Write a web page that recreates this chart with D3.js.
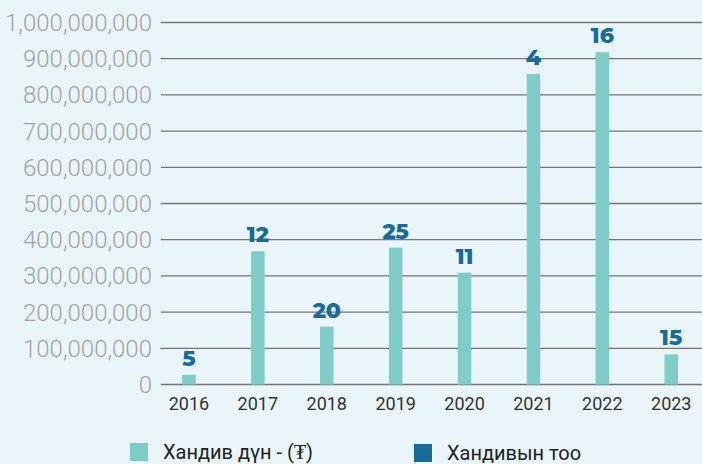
<!DOCTYPE html>
<html><head><meta charset="utf-8">
<script src="https://cdn.jsdelivr.net/npm/d3@7"></script>
<style>
html,body{margin:0;padding:0;background:#eaf5f9;}
svg{display:block;}
</style></head>
<body>
<svg id="chart" width="702" height="464"></svg>
<script>
const years = ["2016","2017","2018","2019","2020","2021","2022","2023"];
const amounts = [27000000, 368000000, 160000000, 378000000, 309000000, 858000000, 918000000, 83000000];
const counts = [5, 12, 20, 25, 11, 4, 16, 15];
const yTicks = [0,100000000,200000000,300000000,400000000,500000000,600000000,700000000,800000000,900000000,1000000000];
const legendLabels = ["Хандив дүн - (₮)", "Хандивын тоо"];

const svg = d3.select("#chart");
const W = 702, H = 464;
svg.append("rect").attr("width", W).attr("height", H).attr("fill", "#eaf5f9");

const y = d3.scaleLinear().domain([0, 1000000000]).range([384.5, 22.5]);
const x = d3.scaleBand().domain(years).range([154.5, 705.7]).paddingInner(0).paddingOuter(0);

// gridlines
svg.append("g").selectAll("line").data(yTicks).join("line")
  .attr("x1", 161).attr("x2", 702)
  .attr("y1", d => y(d)).attr("y2", d => y(d))
  .attr("stroke", "#767676").attr("stroke-width", 1.3);

// y labels
const fmt = d3.format(",");
svg.append("g").selectAll("text").data(yTicks).join("text")
  .attr("x", 152).attr("y", d => y(d)).attr("dy", "0.35em")
  .attr("text-anchor", "end")
  .attr("font-family", "'Roboto Light', Roboto").attr("font-weight", 300).attr("font-size", 24)
  .attr("fill", "#a3a3a3")
  .text(d => fmt(d));

// bars
const bw = 13.5;
svg.append("g").selectAll("rect").data(years).join("rect")
  .attr("x", d => x(d) + x.bandwidth()/2 - bw/2)
  .attr("width", bw)
  .attr("y", (d,i) => y(amounts[i]))
  .attr("height", (d,i) => y(0) - y(amounts[i]))
  .attr("fill", "#7ecdc8");

// count labels
svg.append("g").selectAll("text").data(years).join("text")
  .attr("x", d => x(d) + x.bandwidth()/2)
  .attr("y", (d,i) => y(amounts[i]) - 9)
  .attr("text-anchor", "middle")
  .attr("font-family", "Montserrat, 'Open Sans', sans-serif").attr("font-weight", 800).attr("font-size", 22)
  .attr("fill", "#176b9b")
  .text((d,i) => counts[i]);

// x labels
svg.append("g").selectAll("text").data(years).join("text")
  .attr("x", d => x(d) + x.bandwidth()/2)
  .attr("y", 410)
  .attr("text-anchor", "middle")
  .attr("font-family", "Roboto").attr("font-size", 18)
  .attr("fill", "#333")
  .text(d => d);

// legend
const lg = [{x:130, y:443, c:"#7ecdc8"}, {x:414, y:444, c:"#176b9b"}];
lg.forEach((l,i) => {
  svg.append("rect").attr("x", l.x).attr("y", l.y).attr("width", 18).attr("height", 18).attr("fill", l.c);
  svg.append("text").attr("x", l.x + 33).attr("y", l.y + 16)
    .attr("font-family", "Roboto").attr("font-size", 20).attr("fill", "#222")
    .text(legendLabels[i]);
});
</script>
</body></html>
